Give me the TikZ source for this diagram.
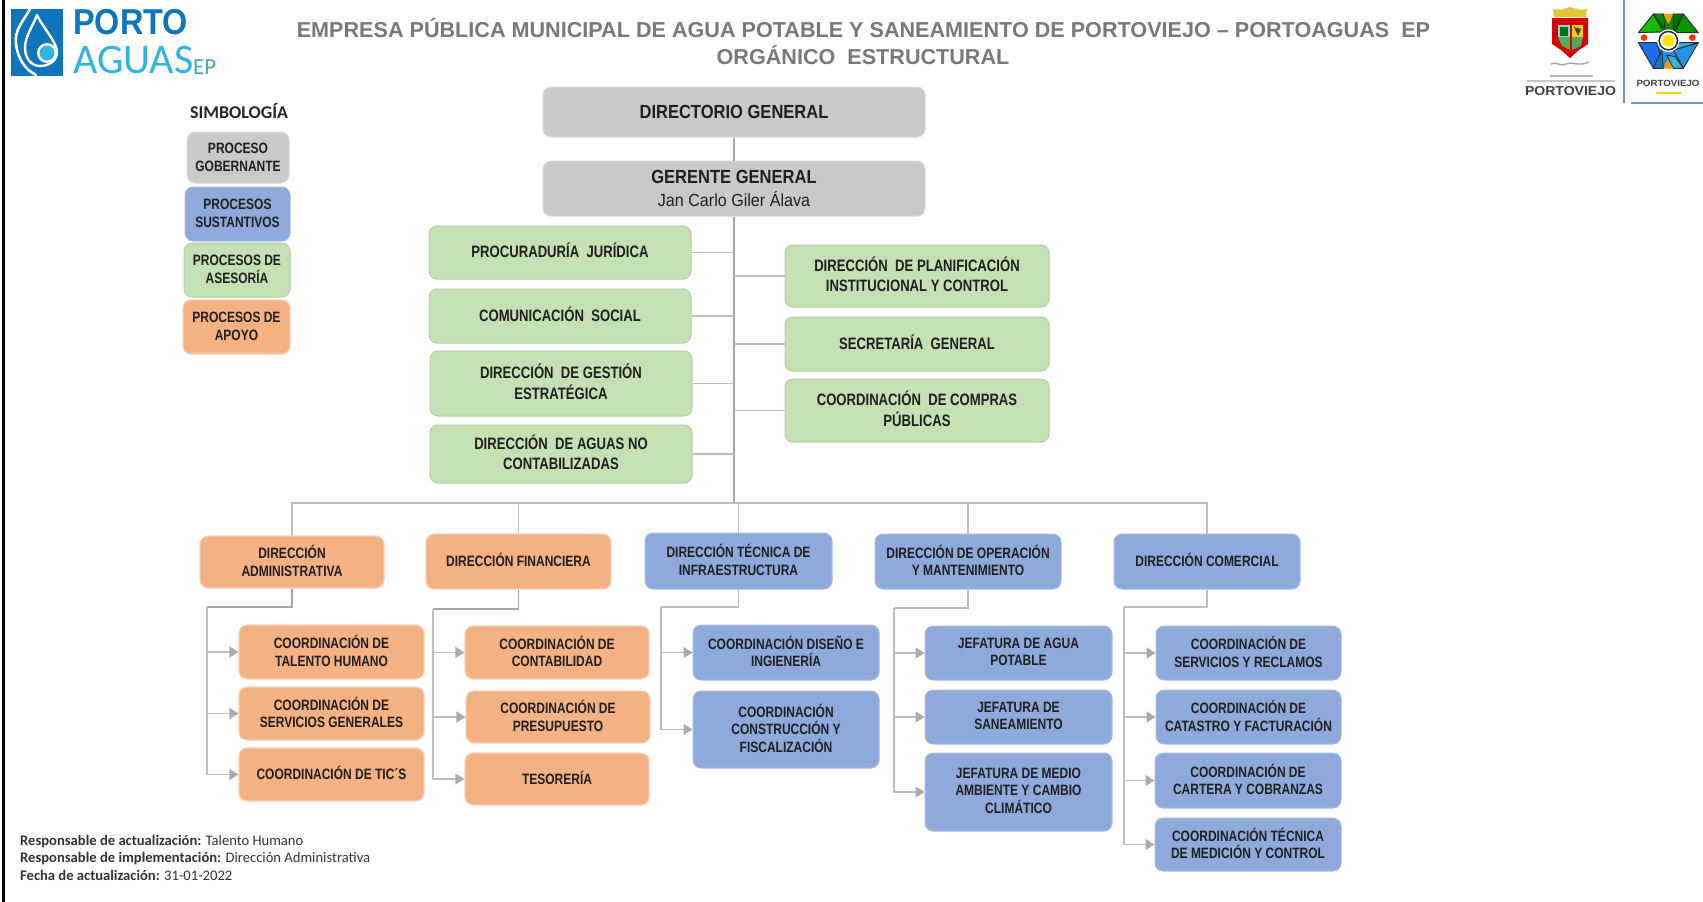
\documentclass[tikz,border=0pt]{standalone}
\usepackage{fontspec}
\setmainfont{Liberation Sans}
\newfontfamily\boxfont{Liberation Sans Bold}[FakeStretch=0.80]
\newfontfamily\greenfont{Liberation Sans Bold}[FakeStretch=0.795]
\newfontfamily\topfont{Liberation Sans Bold}[FakeStretch=0.87]
\newfontfamily\nombre{Liberation Sans}[FakeStretch=0.92]
\newfontfamily\portofont{Liberation Sans Bold}[FakeStretch=0.90]
\newfontfamily\widefont{Liberation Sans Bold}[FakeStretch=1.08]
\newfontfamily\notefont{Carlito}
\usetikzlibrary{arrows.meta,calc}
\definecolor{cgris}{HTML}{C9C9C9}
\definecolor{cazul}{HTML}{8EAADB}
\definecolor{cverde}{HTML}{C5E0B3}
\definecolor{cnaranja}{HTML}{F4B183}
\definecolor{clinea}{HTML}{BDBDBD}
\definecolor{clineb}{HTML}{A6A6A6}
\definecolor{cflecha}{HTML}{ABABAB}
\definecolor{ctexto}{HTML}{202020}
\definecolor{cport}{HTML}{0F75BC}
\definecolor{cagua}{HTML}{2FB5E0}
\definecolor{cmorado}{HTML}{2B2B2B}
\tikzset{
  caja/.style={rounded corners=8pt,inner sep=0pt,align=center,text=ctexto,font=\boxfont\fontsize{15}{17.7}\selectfont,execute at begin node={\def\rdrop{2.5pt}}},
  gris/.style={caja,fill=cgris,draw=cgris!70!white,line width=1pt,execute at begin node={\def\rdrop{0pt}}},
  azul/.style={caja,fill=cazul,draw=cazul!80!white,line width=1pt},
  verde/.style={caja,fill=cverde,draw=cverde!92!black,line width=1pt,font=\greenfont\fontsize{16.5}{20.5}\selectfont,execute at begin node={\def\rdrop{4pt}}},
  leyverde/.style={verde,font=\boxfont\fontsize{15}{17.7}\selectfont,execute at begin node={\def\rdrop{1pt}}},
  naranja/.style={caja,fill=cnaranja,draw=cnaranja!60!white,line width=1.2pt},
  lin/.style={draw=clinea,line width=1.5pt},
  linb/.style={draw=clineb,line width=1.8pt},
  fl/.style={draw=clinea,line width=1.5pt,-{Triangle[length=9pt,width=11pt,color=cflecha]}},
  titulo/.style={inner sep=0pt,text=gray!95!black,font=\bfseries\fontsize{21.6}{26}\selectfont},
  nota/.style={inner sep=0pt,anchor=west,text=black!80,font=\notefont\fontsize{14.6}{17}\selectfont},
  tesela/.style={draw=cmorado,line width=0.9pt,line join=round},
}
\newcommand{\bx}[7]{% style name x1 y1 x2 y2 text
  \pgfmathsetmacro{\wbx}{#5-#3}\pgfmathsetmacro{\hbx}{#6-#4}
  \pgfmathsetmacro{\xbx}{(#3+#5)/2}\pgfmathsetmacro{\ybx}{(#4+#6)/2}
  \node[#1,minimum width=\wbx pt,minimum height=\hbx pt] (#2) at (\xbx,\ybx) {#7\rule[-\rdrop]{0pt}{0pt}};}
\begin{document}
\begin{tikzpicture}[x=1pt,y=-1pt]
\useasboundingbox (0,0) rectangle (1703,902);
\fill[white] (0,0) rectangle (1703,902);
\draw[black,line width=3pt] (3.5,0) -- (3.5,902);

% logo Porto Aguas
\fill[cport] (11,9) rectangle (63,76);
\draw[white,line width=2.6pt,line cap=round] (30,9) .. controls (24,20) and (14,30) .. (16,44) .. controls (18,60) and (26,70) .. (36,75);
\draw[white,line width=2.4pt,line join=round] (37,15) .. controls (33,26) and (25,36) .. (25,48) .. controls (25,58) and (31,66) .. (40,66) .. controls (50,66) and (57,60) .. (57,52) .. controls (57,42) and (43,28) .. (37,15) -- cycle;
\fill[white] (47,53) circle (10);
\fill[cagua] (47,53) circle (7.5);
\node[inner sep=0pt,anchor=west,text=cport,font=\portofont\fontsize{36}{36}\selectfont] (porto) at (73,22.5) {PORTO};
\node[inner sep=0pt,anchor=west,text=cagua,font=\notefont\fontsize{42}{42}\selectfont] (aguas) at (73,60) {AGUAS};
\node[inner sep=0pt,anchor=west,text=cagua!70!gray,font=\notefont\fontsize{23}{23}\selectfont] (ep) at (193,67) {EP};

% titulo
\node[titulo] (t1) at (863.5,28) {EMPRESA PÚBLICA MUNICIPAL DE AGUA POTABLE Y SANEAMIENTO DE PORTOVIEJO – PORTOAGUAS\ \ EP};
\node[titulo] (t2) at (863,55) {ORGÁNICO\ \ ESTRUCTURAL};

% escudo
\fill[yellow!55!brown] (1554,17) -- (1553,9) -- (1560,10) -- (1570,7) -- (1580,10) -- (1587,9) -- (1586,17) -- cycle;
\fill[red!85!black] (1552,18) -- (1588,18) -- (1588,44) -- (1579,50) -- (1570,58) -- (1561,50) -- (1552,44) -- cycle;
\fill[cagua!60!white] (1558,25) rectangle (1570,37);
\fill[green!45!black] (1560,27) rectangle (1568,36);
\fill[green!35!gray] (1558,37) -- (1570,37) -- (1570,50) -- (1562,46) -- cycle;
\fill[yellow!65!orange] (1572,25) rectangle (1583,37);
\fill[black!75] (1574,27) -- (1581,29) -- (1578,36) -- cycle;
\fill[green!30!gray] (1572,37) -- (1583,37) -- (1581,46) -- (1572,50) -- cycle;
\draw[gray!70,line width=1.4pt] (1551,64) .. controls (1556,61) and (1560,67) .. (1566,64) .. controls (1572,61) and (1578,67) .. (1589,62);
\fill[gray!55] (1550,75) rectangle (1593,77);
\fill[gray!45] (1527,80) rectangle (1615,82);
\node[inner sep=0pt,text=black!75,font=\widefont\fontsize{13}{13}\selectfont] (pv1) at (1570.5,91) {PORTOVIEJO};
\draw[cazul!85!black,line width=1.2pt] (1624,0) -- (1624,103) (1631,103) -- (1703,103);

% mosaico
\begin{scope}[shift={(1630,0)},x=0.3333pt,y=-0.3333pt]
\fill[green!55!black] (25,98) -- (70,42) -- (160,42) -- (205,98) -- cycle;
\fill[cagua!80!blue] (25,128) -- (70,205) -- (160,205) -- (205,128) -- cycle;
\fill[orange!80!yellow] (100,42) -- (130,42) -- (115,72) -- cycle;
\fill[orange!80!yellow] (100,205) -- (130,205) -- (115,176) -- cycle;
\fill[red!60!orange] (42,113) circle (10);
\fill[red!60!orange] (187,113) circle (10);
\fill[green!70!black!90!yellow,tesela] (25,98) -- (70,42) -- (100,95) -- cycle;
\fill[green!55!black,tesela] (70,42) -- (100,42) -- (105,90) -- cycle;
\fill[green!45!black,tesela] (130,42) -- (160,42) -- (130,95) -- cycle;
\fill[green!60!black,tesela] (160,42) -- (205,98) -- (135,98) -- cycle;
\fill[cagua!80!blue,tesela] (205,128) -- (160,205) -- (130,150) -- cycle;
\fill[cagua,tesela] (205,128) -- (150,128) -- (130,150) -- cycle;
\fill[cagua!60!blue,tesela] (25,128) -- (80,128) -- (95,175) -- (70,205) -- cycle;
\fill[cport,tesela] (70,205) -- (100,205) -- (95,150) -- cycle;
\fill[cagua,tesela] (130,205) -- (160,205) -- (135,170) -- (110,165) -- cycle;
\fill[orange!80!yellow] (100,205) -- (130,205) -- (115,183) -- cycle;
\fill[white] (115,122) circle (34);
\fill[cmorado] (115,122) circle (30);
\fill[white] (115,122) circle (25);
\fill[yellow!85!orange] (115,122) circle (18);
\end{scope}
\node[inner sep=0pt,text=black!75,font=\widefont\fontsize{9}{10}\selectfont] (pv2) at (1668,83) {PORTOVIEJO};
\fill[yellow!70!orange] (1656,92) rectangle (1681,94);

% simbologia
\node[inner sep=0pt,text=black!85,font=\notefont\bfseries\fontsize{18}{20}\selectfont] (simb) at (239,111.5) {SIMBOLOGÍA};
\bx{gris,execute at begin node={\def\rdrop{1pt}}}{lg}{187}{132}{289}{183}{PROCESO\\GOBERNANTE}
\bx{azul,execute at begin node={\def\rdrop{1pt}}}{la}{185}{187}{290}{241}{PROCESOS\\SUSTANTIVOS}
\bx{leyverde}{lv}{184}{243}{290}{297}{PROCESOS DE\\ASESORÍA}
\bx{naranja,execute at begin node={\def\rdrop{1pt}}}{ln}{183}{300}{290}{354}{PROCESOS DE\\APOYO}

% cajas superiores
\bx{gris,font=\topfont\fontsize{19}{23}\selectfont}{dir}{543}{87}{925}{137}{DIRECTORIO GENERAL}
\bx{gris,font=\fontsize{19}{23}\selectfont}{ger}{543}{161}{925}{216}{{\topfont GERENTE GENERAL}\\{\nombre\fontsize{17.5}{20}\selectfont Jan Carlo Giler Álava}}
\bx{verde}{pj}{429}{226}{691}{279}{PROCURADURÍA\ \ JURÍDICA}
\bx{verde}{cs}{429}{289}{691}{343}{COMUNICACIÓN\ \ SOCIAL}
\bx{verde}{ge}{430}{351}{692}{416}{DIRECCIÓN\ \ DE GESTIÓN\\ESTRATÉGICA}
\bx{verde}{an}{430}{425}{692}{483}{DIRECCIÓN\ \ DE AGUAS NO\\CONTABILIZADAS}
\bx{verde}{pl}{785}{245}{1049}{307}{DIRECCIÓN\ \ DE PLANIFICACIÓN\\INSTITUCIONAL Y CONTROL}
\bx{verde}{sg}{785}{317}{1049}{371}{SECRETARÍA\ \ GENERAL}
\bx{verde}{cp}{785}{379}{1049}{442}{COORDINACIÓN\ \ DE COMPRAS\\PÚBLICAS}

% direcciones
\bx{naranja}{da}{200}{536}{384}{588}{DIRECCIÓN\\ADMINISTRATIVA}
\bx{naranja}{df}{426}{534}{611}{589}{DIRECCIÓN FINANCIERA}
\bx{azul}{dt}{645}{533}{832}{589}{DIRECCIÓN TÉCNICA DE\\INFRAESTRUCTURA}
\bx{azul}{dm}{875}{534}{1061}{589}{DIRECCIÓN DE OPERACIÓN\\Y MANTENIMIENTO}
\bx{azul}{dc}{1114}{534}{1300}{589}{DIRECCIÓN COMERCIAL}

% coordinaciones
\bx{naranja}{c1}{239}{625}{424}{679}{COORDINACIÓN DE\\TALENTO HUMANO}
\bx{naranja}{c2}{239}{687}{424}{740}{COORDINACIÓN DE\\SERVICIOS GENERALES}
\bx{naranja}{c3}{239}{748}{424}{801}{COORDINACIÓN DE TIC´S}
\bx{naranja}{f1}{465}{626}{649}{679}{COORDINACIÓN DE\\CONTABILIDAD}
\bx{naranja}{f2}{466}{691}{650}{743}{COORDINACIÓN DE\\PRESUPUESTO}
\bx{naranja}{f3}{465}{753}{649}{805}{TESORERÍA}
\bx{azul}{t1b}{693}{625}{879}{680}{COORDINACIÓN DISEÑO E\\INGIENERÍA}
\bx{azul}{t2b}{693}{691}{879}{768}{COORDINACIÓN\\CONSTRUCCIÓN Y\\FISCALIZACIÓN}
\bx{azul}{m1}{925}{626}{1112}{680}{JEFATURA DE AGUA\\POTABLE}
\bx{azul}{m2}{925}{690}{1112}{744}{JEFATURA DE\\SANEAMIENTO}
\bx{azul}{m3}{925}{753}{1112}{831}{JEFATURA DE MEDIO\\AMBIENTE Y CAMBIO\\CLIMÁTICO}
\bx{azul}{k1}{1156}{626}{1341}{680}{COORDINACIÓN DE\\SERVICIOS Y RECLAMOS}
\bx{azul}{k2}{1156}{690}{1341}{744}{COORDINACIÓN DE\\CATASTRO Y FACTURACIÓN}
\bx{azul}{k3}{1155}{753}{1341}{808}{COORDINACIÓN DE\\CARTERA Y COBRANZAS}
\bx{azul}{k4}{1155}{818}{1341}{871}{COORDINACIÓN TÉCNICA\\DE MEDICIÓN Y CONTROL}

% conectores superiores
\coordinate (hub) at (ger.south |- 0,503);
\draw[linb] (dir) -- (ger);
\draw[linb] (ger.south) -- (hub);
\foreach \n in {pj,cs,ge,an,pl,sg,cp}{\draw[lin] (\n) -- (hub |- \n);}
\draw[lin] (da.north) -- (da.north |- hub) -- (dc.north |- hub) -- (dc.north);
\foreach \n in {df,dt,dm}{\draw[lin] (\n.north) -- (\n.north |- hub);}

% arboles inferiores
\coordinate (ta) at (207,607);
\draw[linb] (da.south) |- (ta);
\draw[fl] (ta) |- (c1.west);
\draw[fl] (ta) |- (c2.west);
\draw[fl] (ta) |- (c3.west);
\coordinate (tf) at (433,609);
\draw[linb] (df.south) |- (tf);
\draw[fl] (tf) |- (f1.west);
\draw[fl] (tf) |- (f2.west);
\draw[fl] (tf) |- (f3.west);
\coordinate (tt) at (661,607);
\draw[lin] (dt.south) |- (tt);
\draw[fl] (tt) |- (t1b.west);
\draw[fl] (tt) |- (t2b.west);
\coordinate (tm) at (894,608);
\draw[lin] (dm.south) |- (tm);
\draw[fl] (tm) |- (m1.west);
\draw[fl] (tm) |- (m2.west);
\draw[fl] (tm) |- (m3.west);
\coordinate (tk) at (1124,607);
\draw[lin] (dc.south) |- (tk);
\draw[fl] (tk) |- (k1.west);
\draw[fl] (tk) |- (k2.west);
\draw[fl] (tk) |- (k3.west);
\draw[fl] (tk) |- (k4.west);

% notas
\node[nota] (n1) at (20,841.5) {\textbf{Responsable de actualización:} Talento Humano};
\node[nota] (n2) at (20,859) {\textbf{Responsable de implementación:} Dirección Administrativa};
\node[nota] (n3) at (20,875.5) {\textbf{Fecha de actualización:} 31-01-2022};
\end{tikzpicture}
\end{document}
